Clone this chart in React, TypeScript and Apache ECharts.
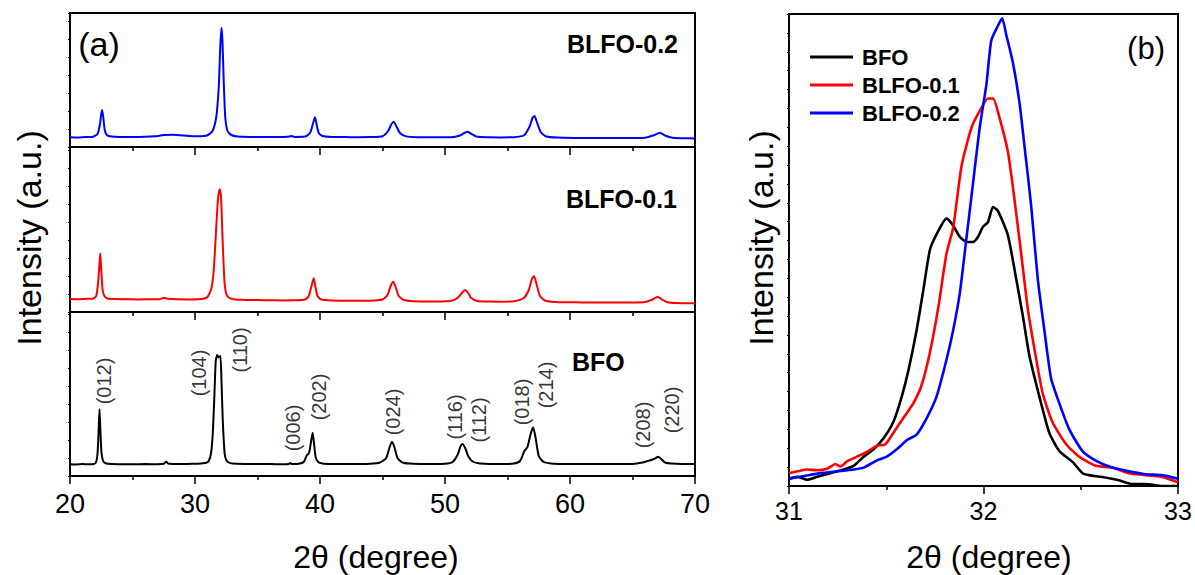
import React, { useEffect, useRef } from "react";
import * as echarts from "echarts";

const FONT = '"Liberation Sans", Arial, Helvetica, sans-serif';

// ---------- Panel (a): full XRD patterns, 2θ (deg) vs intensity (a.u.) ----------
const bfoPattern: number[][] = [
  [20.0, 118], [20.5, 116], [21.0, 119], [21.5, 117], [21.9, 120], [22.08, 135], [22.2, 220], [22.28, 420],
  [22.36, 667], [22.44, 430], [22.52, 230], [22.65, 150], [22.85, 128], [23.3, 119], [24.0, 118], [25.0, 117],
  [26.0, 119], [27.0, 118], [27.5, 122], [27.7, 143], [27.85, 125], [28.2, 121], [29.0, 120], [29.8, 122],
  [30.5, 126], [30.9, 132], [31.1, 150], [31.28, 227], [31.42, 420], [31.55, 800], [31.66, 1150], [31.78, 1210],
  [31.88, 1185], [31.97, 1195], [32.04, 1200], [32.12, 950], [32.22, 560], [32.37, 227], [32.5, 160], [32.7, 135],
  [33.0, 125], [34.0, 121], [35.0, 120], [36.0, 119], [37.0, 118], [37.5, 121], [37.63, 130], [37.75, 119],
  [38.3, 122], [38.7, 140], [38.96, 210], [39.12, 230], [39.28, 340], [39.41, 433], [39.52, 330], [39.65, 190],
  [39.85, 140], [40.2, 126], [41.0, 121], [42.0, 120], [43.0, 120], [44.0, 122], [44.8, 135], [45.3, 180],
  [45.55, 280], [45.75, 343], [45.95, 290], [46.2, 180], [46.6, 135], [47.2, 124], [48.0, 121], [49.0, 120],
  [50.0, 122], [50.6, 140], [51.0, 210], [51.25, 300], [51.4, 320], [51.65, 270], [51.85, 200], [52.2, 145],
  [52.7, 127], [53.5, 121], [54.5, 120], [55.5, 124], [56.0, 150], [56.35, 250], [56.6, 290], [56.85, 420],
  [57.05, 487], [57.25, 380], [57.5, 200], [57.9, 140], [58.5, 126], [59.5, 121], [61.0, 120], [62.0, 119],
  [63.0, 120], [64.0, 120], [65.0, 121], [65.8, 135], [66.2, 150], [66.5, 160], [66.8, 175], [67.05, 193],
  [67.3, 170], [67.6, 135], [68.1, 124], [69.0, 120], [70.0, 120],
];

const blfo01Pattern: number[][] = [
  [20.0, 130], [20.6, 128], [21.2, 131], [21.8, 133], [22.1, 160], [22.25, 300], [22.34, 450], [22.42, 587],
  [22.5, 420], [22.6, 230], [22.75, 160], [23.0, 135], [23.6, 129], [24.5, 128], [25.5, 126], [26.5, 127],
  [27.2, 128], [27.5, 143], [27.8, 133], [28.5, 127], [29.5, 126], [30.5, 130], [31.0, 150], [31.3, 230],
  [31.5, 420], [31.7, 850], [31.85, 1150], [31.98, 1227], [32.08, 1150], [32.2, 750], [32.35, 320], [32.5, 180],
  [32.75, 140], [33.2, 125], [34.0, 121], [35.0, 119], [36.0, 117], [37.0, 116], [38.0, 117], [38.8, 125],
  [39.1, 160], [39.3, 250], [39.5, 337], [39.62, 260], [39.8, 160], [40.1, 125], [41.0, 115], [42.0, 113],
  [43.0, 112], [44.0, 113], [45.0, 125], [45.4, 170], [45.65, 260], [45.86, 303], [46.05, 250], [46.3, 160],
  [46.7, 120], [47.5, 108], [48.5, 106], [49.5, 105], [50.5, 112], [51.0, 140], [51.35, 190], [51.6, 220],
  [51.85, 190], [52.1, 140], [52.6, 110], [53.5, 104], [54.5, 103], [55.5, 108], [56.3, 140], [56.7, 220],
  [56.95, 330], [57.12, 360], [57.32, 280], [57.6, 160], [58.0, 115], [58.8, 100], [60.0, 97], [61.0, 96],
  [62.0, 95], [63.0, 95], [64.0, 94], [65.0, 95], [66.0, 100], [66.6, 125], [67.03, 153], [67.35, 125],
  [67.8, 98], [68.5, 90], [69.3, 88], [70.0, 87],
];

const blfo02Pattern: number[][] = [
  [20.0, 98], [20.6, 96], [21.2, 99], [21.8, 101], [22.2, 130], [22.4, 230], [22.5, 330], [22.57, 370],
  [22.66, 300], [22.78, 170], [22.95, 120], [23.3, 104], [24.0, 100], [25.0, 100], [26.0, 102], [26.8, 108],
  [27.5, 120], [28.2, 122], [28.8, 118], [29.5, 110], [30.3, 108], [31.0, 118], [31.4, 160], [31.7, 300],
  [31.9, 600], [32.02, 1000], [32.12, 1193], [32.2, 1050], [32.3, 650], [32.42, 300], [32.6, 160], [32.9, 120],
  [33.4, 106], [34.5, 101], [35.5, 100], [36.5, 100], [37.4, 102], [37.7, 110], [38.0, 101], [38.8, 104],
  [39.2, 140], [39.45, 240], [39.6, 297], [39.72, 230], [39.9, 140], [40.2, 110], [41.0, 100], [42.0, 99],
  [43.0, 98], [44.0, 99], [45.0, 108], [45.45, 160], [45.72, 230], [45.9, 253], [46.1, 210], [46.4, 140],
  [46.9, 106], [47.8, 98], [49.0, 97], [50.5, 98], [51.2, 115], [51.55, 140], [51.8, 153], [52.05, 135],
  [52.5, 105], [53.5, 97], [54.5, 96], [55.5, 98], [56.3, 115], [56.75, 200], [57.0, 290], [57.16, 310],
  [57.35, 250], [57.65, 150], [58.1, 105], [59.0, 94], [60.5, 91], [62.0, 90], [63.5, 90], [65.0, 90],
  [66.0, 93], [66.7, 118], [67.2, 143], [67.6, 115], [68.2, 92], [69.0, 88], [70.0, 85],
];

// Panel (a) y-axis ranges (top, middle, bottom)
const panelMax = [1340, 1650, 1640];

// Miller indices annotated on the BFO pattern (positions in 2θ / intensity)
const hklLabels = ["(012)", "(104)", "(110)", "(006)", "(202)", "(024)", "(116)", "(112)", "(018)", "(214)", "(208)", "(220)"];
const hklX = [22.68, 30.35, 33.63, 37.83, 39.94, 45.86, 50.82, 52.73, 56.17, 58.09, 65.84, 68.16];
const hklY = [950, 1030, 1260, 480, 790, 640, 590, 560, 740, 910, 510, 660];

// ---------- Panel (b): zoom on the (104)/(110) region ----------
const bfoZoom: number[][] = [
  [31.0, 1.55], [31.043, 1.94], [31.094, 1.32], [31.145, 1.94], [31.213, 2.72], [31.281, 3.5], [31.332, 4.27],
  [31.384, 6.22], [31.435, 7.77], [31.486, 10.1], [31.537, 13.6], [31.58, 19.0], [31.614, 24.5], [31.656, 33.0],
  [31.691, 41.6], [31.725, 50.1], [31.767, 54.0], [31.81, 56.7], [31.844, 55.2], [31.878, 52.8], [31.912, 51.7],
  [31.946, 51.7], [31.972, 52.8], [31.997, 54.9], [32.023, 55.9], [32.049, 59.1], [32.074, 58.3], [32.125, 53.2],
  [32.168, 43.9], [32.202, 36.1], [32.236, 27.6], [32.287, 19.0], [32.338, 11.3], [32.39, 7.4], [32.458, 5.1],
  [32.509, 2.7], [32.543, 2.3], [32.611, 1.9], [32.697, 1.2], [32.765, 0.4], [32.833, 0.4], [32.918, 0.0],
  [33.0, 0.0],
];

const blfo01Zoom: number[][] = [
  [31.0, 2.72], [31.043, 3.11], [31.094, 3.5], [31.145, 3.34], [31.196, 3.65], [31.239, 4.66], [31.264, 4.12],
  [31.298, 5.21], [31.35, 6.22], [31.401, 7.23], [31.452, 8.55], [31.494, 8.78], [31.537, 11.3], [31.588, 14.4],
  [31.639, 17.5], [31.682, 21.4], [31.725, 28.4], [31.767, 37.7], [31.81, 49.3], [31.844, 54.7], [31.887, 67.8],
  [31.938, 75.9], [31.98, 79.4], [32.023, 82.1], [32.049, 82.1], [32.083, 77.9], [32.125, 70.9], [32.159, 60.8],
  [32.194, 49.1], [32.228, 37.5], [32.262, 29.0], [32.304, 19.7], [32.355, 13.5], [32.424, 8.9], [32.492, 6.2],
  [32.577, 4.3], [32.662, 3.9], [32.748, 2.7], [32.833, 2.3], [32.918, 1.9], [33.0, 0.8],
];

const blfo02Zoom: number[][] = [
  [31.0, 1.55], [31.077, 2.1], [31.162, 2.72], [31.247, 3.11], [31.332, 3.5], [31.384, 3.89], [31.452, 5.44],
  [31.503, 6.22], [31.554, 7.77], [31.605, 9.71], [31.656, 10.9], [31.708, 14.4], [31.759, 19.0], [31.81, 26.8],
  [31.844, 33.0], [31.878, 40.8], [31.912, 52.4], [31.946, 64.1], [31.98, 75.8], [32.015, 85.1], [32.04, 94.4],
  [32.074, 97.5], [32.096, 99.1], [32.117, 95.6], [32.151, 89.7], [32.185, 81.2], [32.211, 71.9], [32.245, 59.4],
  [32.279, 43.9], [32.313, 33.0], [32.347, 22.9], [32.39, 17.5], [32.441, 12.0], [32.509, 7.4], [32.577, 5.4],
  [32.662, 3.9], [32.748, 3.1], [32.833, 2.5], [32.918, 2.3], [33.0, 1.55],
];

const seriesNames = ["BFO", "BLFO-0.1", "BLFO-0.2"];
const seriesColors = ["#000000", "#ff0000", "#0000ff"];

function buildOption(): any {
  const grids = [
    { left: 70, top: 13, width: 625, height: 134 },
    { left: 70, top: 147, width: 625, height: 165 },
    { left: 70, top: 312, width: 625, height: 164 },
    { left: 789, top: 14, width: 389, height: 472 },
  ].map((g) => ({ ...g, show: true, borderColor: "#000", borderWidth: 2, backgroundColor: "transparent" }));

  const axisLine = { show: true, onZero: false, lineStyle: { color: "#000", width: 2 } };
  const tickStyle = { color: "#000", width: 1.5 };

  const xAxes: any[] = [0, 1, 2].map((i) => ({
    gridIndex: i,
    type: "value",
    min: 20,
    max: 70,
    interval: 10,
    axisLine,
    axisTick: { show: true, length: 8, lineStyle: tickStyle },
    minorTick: { show: true, splitNumber: 2, length: 4, lineStyle: tickStyle },
    axisLabel: {
      show: i === 2,
      fontSize: 27,
      color: "#000",
      margin: 14,
      fontFamily: FONT,
      showMinLabel: true,
      showMaxLabel: true,
    },
    splitLine: { show: false },
    minorSplitLine: { show: false },
  }));
  xAxes.push({
    gridIndex: 3,
    type: "value",
    min: 31,
    max: 33,
    interval: 1,
    axisLine,
    axisTick: { show: true, length: 8, lineStyle: tickStyle },
    minorTick: { show: true, splitNumber: 2, length: 4, lineStyle: tickStyle },
    axisLabel: { show: true, fontSize: 25, color: "#000", margin: 12, fontFamily: FONT, showMinLabel: true, showMaxLabel: true },
    splitLine: { show: false },
    minorSplitLine: { show: false },
  });

  const yAxes: any[] = [0, 1, 2].map((i) => ({
    gridIndex: i,
    type: "value",
    min: 0,
    max: panelMax[i],
    interval: 180,
    axisLine,
    axisTick: { show: true, length: 2, lineStyle: { color: "#000", width: 1 } },
    axisLabel: { show: false },
    splitLine: { show: false },
  }));
  yAxes.push({
    gridIndex: 3,
    type: "value",
    min: 0,
    max: 100,
    interval: 4,
    axisLine,
    axisTick: { show: true, length: 2, lineStyle: { color: "#000", width: 1 } },
    axisLabel: { show: false },
    splitLine: { show: false },
  });

  const patterns = [blfo02Pattern, blfo01Pattern, bfoPattern];
  const patternColors = [seriesColors[2], seriesColors[1], seriesColors[0]];
  const patternNames = ["BLFO-0.2 pattern", "BLFO-0.1 pattern", "BFO pattern"];

  const series: any[] = patterns.map((d, i) => ({
    type: "line",
    name: patternNames[i],
    xAxisIndex: i,
    yAxisIndex: i,
    data: d,
    showSymbol: false,
    smooth: 0.2,
    color: patternColors[i],
    lineStyle: { width: 2, color: patternColors[i] },
    silent: true,
  }));

  series.push({
    type: "scatter",
    name: "hkl",
    xAxisIndex: 2,
    yAxisIndex: 2,
    symbolSize: 0,
    silent: true,
    data: hklLabels.map((t, i) => ({ name: t, value: [hklX[i], hklY[i]] })),
    label: {
      show: true,
      formatter: "{b}",
      rotate: 90,
      position: "inside",
      fontSize: 20,
      color: "#000",
      fontFamily: FONT,
    },
  });

  const zooms = [bfoZoom, blfo01Zoom, blfo02Zoom];
  zooms.forEach((d, i) => {
    series.push({
      type: "line",
      name: seriesNames[i],
      xAxisIndex: 3,
      yAxisIndex: 3,
      data: d,
      showSymbol: false,
      smooth: 0.2,
      color: seriesColors[i],
      lineStyle: { width: 2.6, color: seriesColors[i] },
      silent: true,
    });
  });

  const txt = (text: string, x: number, y: number, fontSize: number, extra: any = {}, rotation = 0) => ({
    type: "text",
    x,
    y,
    rotation,
    silent: true,
    style: {
      text,
      fontSize,
      fontFamily: FONT,
      fill: "#000",
      align: "center",
      verticalAlign: "middle",
      ...extra,
    },
  });

  const graphic = [
    txt("(a)", 99, 44, 34),
    txt("(b)", 1146, 48, 31),
    txt("BLFO-0.2", 678, 44, 25, { fontWeight: "bold", align: "right" }),
    txt("BLFO-0.1", 677, 199, 25, { fontWeight: "bold", align: "right" }),
    txt("BFO", 572, 362, 25, { fontWeight: "bold", align: "left" }),
    txt("Intensity (a.u.)", 29, 238, 34, {}, Math.PI / 2),
    txt("Intensity (a.u.)", 761, 238, 34, {}, Math.PI / 2),
    txt("2θ (degree)", 376, 557, 32),
    txt("2θ (degree)", 989, 557, 32),
  ];

  return {
    animation: false,
    backgroundColor: "#ffffff",
    textStyle: { fontFamily: FONT },
    grid: grids,
    xAxis: xAxes,
    yAxis: yAxes,
    legend: {
      show: true,
      data: seriesNames,
      orient: "vertical",
      left: 805,
      top: 41,
      itemWidth: 43,
      itemHeight: 3,
      itemGap: 6,
      icon: "rect",
      selectedMode: false,
      textStyle: { fontSize: 22, fontWeight: "bold", color: "#000", fontFamily: FONT, padding: [0, 0, 0, 4] },
    },
    series,
    graphic,
  };
}

export default function App() {
  const ref = useRef<HTMLDivElement>(null);
  useEffect(() => {
    if (!ref.current) return;
    const chart = echarts.init(ref.current, null, { renderer: "svg" });
    chart.setOption(buildOption());
    return () => chart.dispose();
  }, []);
  return (
    <div
      ref={ref}
      style={{ position: "fixed", left: 0, top: 0, width: 1195, height: 575, background: "#fff" }}
    />
  );
}
